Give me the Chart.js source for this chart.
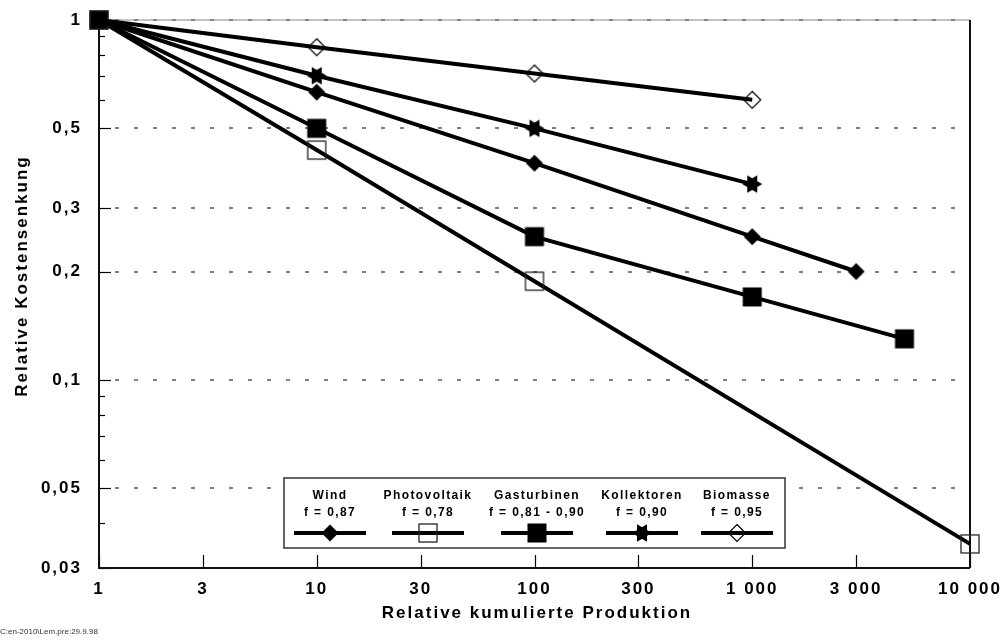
<!DOCTYPE html>
<html>
<head>
<meta charset="utf-8">
<script src="https://cdn.jsdelivr.net/npm/chart.js@4/dist/chart.umd.min.js"></script>
<style>
  html, body { margin: 0; padding: 0; background: #fff; }
  #chart { display: block; width: 1002px; height: 642px; }
</style>
</head>
<body>
<canvas id="chart" width="1002" height="642"></canvas>
<script>
// Achsen
const xTicks = [1, 3, 10, 30, 100, 300, 1000, 3000, 10000];
const xTickLabels = ['1', '3', '10', '30', '100', '300', '1 000', '3 000', '10 000'];
const yTicks = [1, 0.5, 0.3, 0.2, 0.1, 0.05, 0.03];
const yTickLabels = ['1', '0,5', '0,3', '0,2', '0,1', '0,05', '0,03'];
const yMinorTicks = [0.9, 0.8, 0.7, 0.6, 0.09, 0.08, 0.07, 0.06, 0.04];

// Reihen (Name + Lernfaktor)
const seriesNames = ['Wind', 'Photovoltaik', 'Gasturbinen', 'Kollektoren', 'Biomasse'];
const seriesFactors = ['f = 0,87', 'f = 0,78', 'f = 0,81 - 0,90', 'f = 0,90', 'f = 0,95'];

const windX = [1, 10, 100, 1000, 3000];
const windY = [1, 0.63, 0.40, 0.25, 0.20];
const pvX = [1, 10, 100, 10000];
const pvY = [1, 0.435, 0.188, 0.035];
const gasX = [1, 10, 100, 1000, 5000];
const gasY = [1, 0.50, 0.25, 0.17, 0.13];
const kollX = [1, 10, 100, 1000];
const kollY = [1, 0.70, 0.50, 0.35];
const bioX = [1, 10, 100, 1000];
const bioY = [1, 0.84, 0.71, 0.60];

const FONT = '"Liberation Sans", Arial, sans-serif';

// Marker als kleine Canvas-Bilder
function makeMarker(kind) {
    const c = document.createElement('canvas');
    c.width = 22; c.height = 22;
    const g = c.getContext('2d');
    const m = 11;
    g.fillStyle = '#000';
    g.strokeStyle = '#000';
    if (kind === 'diamond' || kind === 'diamondOpen') {
        const r = 8.5;
        g.beginPath();
        g.moveTo(m, m - r); g.lineTo(m + r, m); g.lineTo(m, m + r); g.lineTo(m - r, m);
        g.closePath();
        if (kind === 'diamond') g.fill();
        else { g.lineWidth = 1.2; g.stroke(); }
    } else if (kind === 'square') {
        g.fillRect(m - 9.5, m - 9.5, 19, 19);
    } else if (kind === 'squareOpen') {
        g.lineWidth = 1.3;
        g.strokeStyle = '#222';
        g.strokeRect(m - 9, m - 9, 18, 18);
    } else if (kind === 'star') {
        const r = 10;
        [0, Math.PI / 3].forEach(off => {
            g.beginPath();
            for (let k = 0; k < 3; k++) {
                const a = off + k * 2 * Math.PI / 3;
                const px = m + r * Math.cos(a), py = m + r * Math.sin(a);
                if (k === 0) g.moveTo(px, py); else g.lineTo(px, py);
            }
            g.closePath();
            g.fill();
        });
    }
    return c;
}

const markers = [
    makeMarker('diamond'),
    makeMarker('squareOpen'),
    makeMarker('square'),
    makeMarker('star'),
    makeMarker('diamondOpen')
];

function points(xs, ys) {
    return xs.map((x, i) => ({ x: x, y: ys[i] }));
}

const seriesData = [
    points(windX, windY),
    points(pvX, pvY),
    points(gasX, gasY),
    points(kollX, kollY),
    points(bioX, bioY)
];

// Legende: Spaltenmitten
const legendCols = [330, 428, 537, 642, 737];

const framePlugin = {
    id: 'frame',
    beforeUpdate(chart) { chart.ctx.letterSpacing = '2px'; },
    beforeDraw(chart) { chart.ctx.letterSpacing = '2px'; },
    beforeDatasetsDraw(chart) {
        const ctx = chart.ctx;
        const a = chart.chartArea;
        const x = chart.scales.x, y = chart.scales.y;
        ctx.save();
        // gestrichelte Hilfslinien
        ctx.lineWidth = 1.5;
        ctx.strokeStyle = '#555';
        ctx.setLineDash([4, 15]);
        yTicks.forEach(v => {
            const py = Math.round(y.getPixelForValue(v));
            ctx.beginPath();
            ctx.moveTo(a.left + 16, py);
            ctx.lineTo(a.right, py);
            ctx.stroke();
        });
        ctx.setLineDash([]);
        // obere Kante
        ctx.lineWidth = 1;
        ctx.strokeStyle = '#888';
        ctx.beginPath();
        ctx.moveTo(a.left, a.top); ctx.lineTo(a.right, a.top);
        ctx.stroke();
        // Teilstriche innen
        ctx.strokeStyle = '#000';
        ctx.lineWidth = 1.2;
        yTicks.forEach(v => {
            const py = Math.round(y.getPixelForValue(v)) + 0.5;
            ctx.beginPath(); ctx.moveTo(a.left, py); ctx.lineTo(a.left + 12, py); ctx.stroke();
        });
        yMinorTicks.forEach(v => {
            const py = Math.round(y.getPixelForValue(v)) + 0.5;
            ctx.beginPath(); ctx.moveTo(a.left, py); ctx.lineTo(a.left + 6, py); ctx.stroke();
        });
        xTicks.forEach(v => {
            const px = Math.round(x.getPixelForValue(v)) + 0.5;
            ctx.beginPath(); ctx.moveTo(px, a.bottom); ctx.lineTo(px, a.bottom - 13); ctx.stroke();
        });
        // Achsen
        ctx.lineWidth = 2;
        ctx.strokeStyle = '#111';
        ctx.beginPath();
        ctx.moveTo(a.left, a.top); ctx.lineTo(a.left, a.bottom); ctx.lineTo(a.right, a.bottom);
        ctx.moveTo(a.right, a.top); ctx.lineTo(a.right, a.bottom);
        ctx.stroke();
        ctx.restore();
    },
    afterDraw(chart) {
        const ctx = chart.ctx;
        ctx.save();
        ctx.fillStyle = '#000';
        ctx.textAlign = 'center';
        ctx.textBaseline = 'middle';
        ctx.font = 'bold 17px ' + FONT;
        ctx.letterSpacing = '2px';
        // Achsentitel
        ctx.fillText('Relative kumulierte Produktion', 537, 613);
        ctx.save();
        ctx.translate(22, 276);
        ctx.rotate(-Math.PI / 2);
        ctx.fillText('Relative Kostensenkung', 0, 0);
        ctx.restore();

        // Legende
        ctx.fillStyle = '#fff';
        ctx.fillRect(284, 478, 501, 70);
        ctx.strokeStyle = '#333';
        ctx.lineWidth = 1.5;
        ctx.strokeRect(284, 478, 501, 70);
        ctx.font = 'bold 12px ' + FONT;
        ctx.letterSpacing = '1.4px';
        ctx.fillStyle = '#000';
        seriesNames.forEach((name, i) => {
            const cx = legendCols[i];
            ctx.fillText(name, cx, 496);
            ctx.fillText(seriesFactors[i], cx, 513);
            ctx.strokeStyle = '#000';
            ctx.lineWidth = 4;
            ctx.beginPath();
            ctx.moveTo(cx - 36, 533); ctx.lineTo(cx + 36, 533);
            ctx.stroke();
            const mk = markers[i];
            ctx.drawImage(mk, cx - mk.width / 2, 533 - mk.height / 2);
        });

        // Dateivermerk
        ctx.font = '8px ' + FONT;
        ctx.letterSpacing = '0px';
        ctx.fillStyle = '#333';
        ctx.textAlign = 'left';
        ctx.fillText('C:en-2010\\Lem.pre:29.9.98', 0, 632);
        ctx.restore();
    }
};

const ctx = document.getElementById('chart').getContext('2d');
new Chart(ctx, {
    type: 'line',
    data: {
        datasets: seriesNames.map((name, i) => ({
            label: name,
            data: seriesData[i],
            borderColor: '#000',
            borderWidth: 4,
            pointStyle: markers[i],
            pointRadius: 10,
            pointBackgroundColor: 'rgba(0,0,0,0)',
            pointBorderColor: '#000',
            tension: 0,
            clip: false
        }))
    },
    options: {
        responsive: false,
        animation: false,
        layout: { padding: { left: 0, top: 20, right: 32, bottom: 0 } },
        plugins: {
            legend: { display: false },
            tooltip: { enabled: false }
        },
        scales: {
            x: {
                type: 'logarithmic',
                min: 1,
                max: 10000,
                afterBuildTicks: function (scale) {
                    scale.ticks = xTicks.map(v => ({ value: v }));
                },
                afterFit: function (scale) {
                    scale.height = 74;
                    scale.paddingLeft = 0;
                    scale.paddingRight = 0;
                },
                ticks: {
                    autoSkip: false,
                    maxRotation: 0,
                    padding: 11,
                    color: '#000',
                    font: { family: FONT, size: 17, weight: 'bold' },
                    callback: function (value) {
                        return xTickLabels[xTicks.indexOf(value)];
                    }
                },
                grid: { display: false, drawTicks: false },
                border: { display: false }
            },
            y: {
                type: 'logarithmic',
                min: 0.03,
                max: 1,
                afterBuildTicks: function (scale) {
                    scale.ticks = yTicks.map(v => ({ value: v }));
                },
                afterFit: function (scale) {
                    scale.width = 99;
                    scale.paddingTop = 0;
                    scale.paddingBottom = 0;
                },
                ticks: {
                    autoSkip: false,
                    padding: 17,
                    color: '#000',
                    font: { family: FONT, size: 17, weight: 'bold' },
                    callback: function (value) {
                        return yTickLabels[yTicks.indexOf(value)];
                    }
                },
                grid: { display: false, drawTicks: false },
                border: { display: false }
            }
        }
    },
    plugins: [framePlugin]
});
</script>
</body>
</html>
